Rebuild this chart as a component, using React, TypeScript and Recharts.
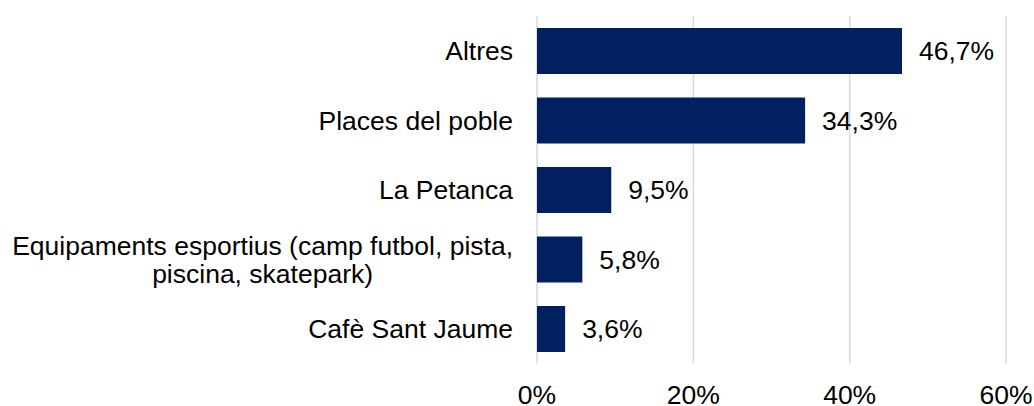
import { Bar, BarChart, CartesianGrid, LabelList, XAxis, YAxis } from 'recharts';

const categories = [
  'Altres',
  'Places del poble',
  'La Petanca',
  'Equipaments esportius (camp futbol, pista,\npiscina, skatepark)',
  'Cafè Sant Jaume',
];
const values = [46.7, 34.3, 9.5, 5.8, 3.6];
const xTicks = [0, 20, 40, 60];

const FONT = '"Liberation Sans", Arial, sans-serif';
const FONT_SIZE = 26.5;
const BAR_COLOR = '#002060';

const data = categories.map((name, i) => ({ name, value: values[i] }));

const fmt = (v: number) => `${v.toFixed(1).replace('.', ',')}%`;

function measure(t: string) {
  const ctx = document.createElement('canvas').getContext('2d');
  if (!ctx) return t.length * FONT_SIZE * 0.5;
  ctx.font = `${FONT_SIZE}px "Liberation Sans", Arial, sans-serif`;
  return ctx.measureText(t).width;
}

function CategoryTick({ x, y, payload }: any) {
  const lines = String(payload.value).split('\n');
  if (lines.length === 1) {
    return (
      <text x={x} y={y} dy="0.35em" textAnchor="end" fill="#000" fontSize={FONT_SIZE} fontFamily={FONT}>
        {lines[0]}
      </text>
    );
  }
  // wrapped labels are centred on the widest line, right edge at the axis
  const w = Math.max(...lines.map(measure));
  const cx = x - w / 2;
  const lh = 28;
  const y0 = y - ((lines.length - 1) * lh) / 2;
  return (
    <text textAnchor="middle" fill="#000" fontSize={FONT_SIZE} fontFamily={FONT}>
      {lines.map((l, i) => (
        <tspan key={i} x={cx} y={y0 + i * lh} dy="0.35em">
          {l}
        </tspan>
      ))}
    </text>
  );
}

export default function App() {
  return (
    <div style={{ position: 'fixed', left: 0, top: 0, background: '#fff' }}>
      <BarChart
        width={1034}
        height={406}
        data={data}
        layout="vertical"
        margin={{ top: 16, right: 28, bottom: 0, left: 0 }}
      >
        <CartesianGrid horizontal={false} stroke="#d9d9d9" strokeWidth={1.5} />
        <XAxis
          type="number"
          domain={[0, 60]}
          ticks={xTicks}
          tickFormatter={(v: number) => `${v}%`}
          axisLine={false}
          tickLine={false}
          tickSize={0}
          tickMargin={22}
          height={42.5}
          interval={0}
          tick={{ fill: '#000', fontSize: FONT_SIZE, fontFamily: FONT }}
        />
        <YAxis
          type="category"
          dataKey="name"
          width={537}
          axisLine={false}
          tickLine={false}
          tickSize={0}
          tickMargin={24}
          interval={0}
          tick={<CategoryTick />}
        />
        <Bar dataKey="value" fill={BAR_COLOR} barSize={46} isAnimationActive={false}>
          <LabelList
            dataKey="value"
            position="right"
            offset={17}
            formatter={(v: any) => fmt(Number(v))}
            fill="#000"
            fontSize={FONT_SIZE}
            fontFamily={FONT}
          />
        </Bar>
      </BarChart>
    </div>
  );
}
